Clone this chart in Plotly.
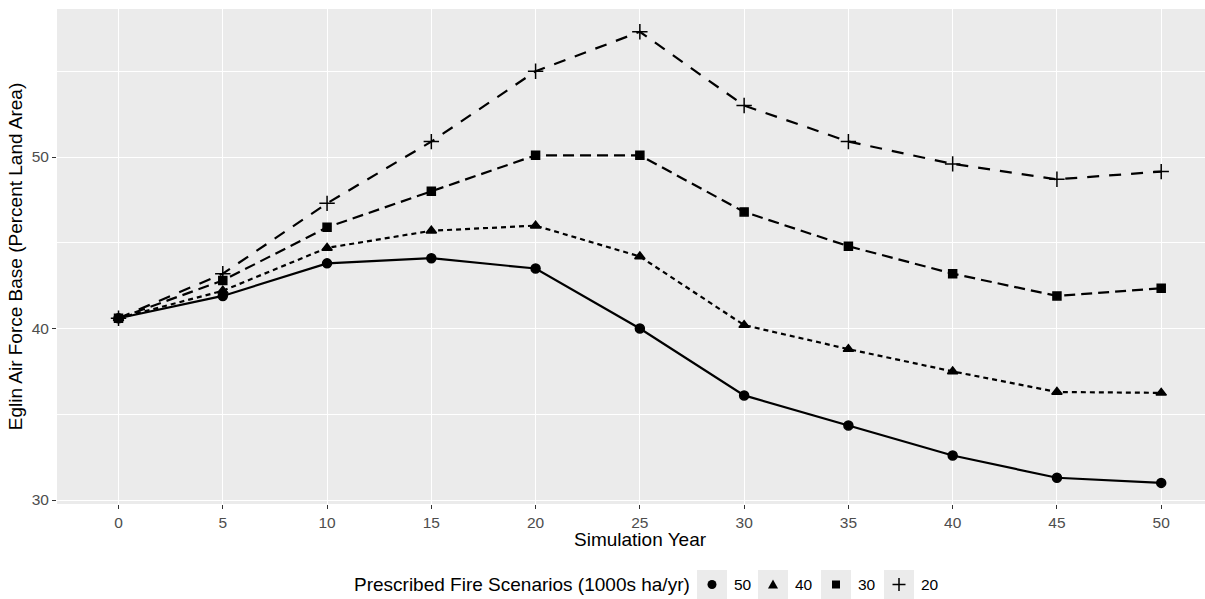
import plotly.graph_objects as go

years = [0, 5, 10, 15, 20, 25, 30, 35, 40, 45, 50]
s50 = [40.6, 41.9, 43.8, 44.1, 43.5, 40.0, 36.1, 34.35, 32.6, 31.3, 31.0]
s40 = [40.6, 42.2, 44.7, 45.7, 46.0, 44.2, 40.2, 38.8, 37.5, 36.3, 36.25]
s30 = [40.6, 42.8, 45.9, 48.0, 50.1, 50.1, 46.8, 44.8, 43.2, 41.9, 42.35]
s20 = [40.6, 43.2, 47.3, 50.9, 55.0, 57.3, 53.0, 50.9, 49.6, 48.7, 49.15]
legend_labels = ["50", "40", "30", "20"]
legend_title = "Prescribed Fire Scenarios (1000s ha/yr)"
x_title = "Simulation Year"
y_title = "Eglin Air Force Base (Percent Land Area)"

series = [
    (s50, "circle", "solid", 9),
    (s40, "triangle-up", "5px,4px", 9),
    (s30, "square", "11px,6px", 8),
    (s20, "cross-thin", "12px,10px", 11),
]

W, H = 1205, 599
ML, MR, MT, MB = 57, 0, 9, 95
PW, PH = W - ML - MR, H - MT - MB


def px(xp):
    return (xp - ML) / PW


def py(yp):
    return (H - MB - yp) / PH


fig = go.Figure()
for (ys, sym, dash, size), name in zip(series, legend_labels):
    fig.add_trace(go.Scatter(
        x=years, y=ys, mode="lines+markers", name=name, showlegend=False,
        line=dict(color="black", width=2.2, dash=dash),
        marker=dict(symbol=sym, size=size, color="black",
                    line=dict(color="black", width=1.5)),
    ))

# manual legend (bottom, horizontal) as in ggplot
shapes = []
annotations = [
    dict(xref="paper", yref="paper", x=px(692), y=py(584.5), xanchor="right", yanchor="middle",
         text=legend_title, showarrow=False, font=dict(size=19, color="black")),
    dict(xref="paper", yref="paper", x=px(640.5), y=py(539), xanchor="center", yanchor="middle",
         text=x_title, showarrow=False, font=dict(size=19, color="black")),
]
box_left = [697, 758, 821, 884]
cy = 584.5
for i, (bx, lab) in enumerate(zip(box_left, legend_labels)):
    shapes.append(dict(type="rect", xref="paper", yref="paper", layer="below",
                       x0=px(bx), x1=px(bx + 30), y0=py(599), y1=py(570),
                       fillcolor="#EBEBEB", line=dict(width=0)))
    cx = bx + 15
    if i == 0:
        shapes.append(dict(type="circle", xref="paper", yref="paper",
                           x0=px(cx - 4.5), x1=px(cx + 4.5), y0=py(cy + 4.5), y1=py(cy - 4.5),
                           fillcolor="black", line=dict(width=0)))
    elif i == 1:
        path = "M {},{} L {},{} L {},{} Z".format(px(cx - 5), py(cy + 4), px(cx + 5), py(cy + 4), px(cx), py(cy - 5))
        shapes.append(dict(type="path", xref="paper", yref="paper", path=path,
                           fillcolor="black", line=dict(width=0)))
    elif i == 2:
        shapes.append(dict(type="rect", xref="paper", yref="paper",
                           x0=px(cx - 4), x1=px(cx + 4), y0=py(cy + 4), y1=py(cy - 4),
                           fillcolor="black", line=dict(width=0)))
    else:
        path = "M {},{} L {},{} M {},{} L {},{}".format(px(cx - 6.5), py(cy), px(cx + 6.5), py(cy),
                                                        px(cx), py(cy - 6.5), px(cx), py(cy + 6.5))
        shapes.append(dict(type="path", xref="paper", yref="paper", path=path,
                           line=dict(color="black", width=1.5)))
    annotations.append(dict(
        xref="paper", yref="paper", x=px(bx + 35), y=py(cy), xanchor="left", yanchor="middle",
        text=lab, showarrow=False, font=dict(size=15.5, color="black"),
    ))

fig.update_layout(
    width=W, height=H,
    margin=dict(l=ML, r=MR, t=MT, b=MB),
    paper_bgcolor="white", plot_bgcolor="#EBEBEB",
    font=dict(family="Liberation Sans, Arial, sans-serif", color="black"),
    showlegend=False,
    shapes=shapes, annotations=annotations,
    xaxis=dict(
        range=[-2.95, 52.1], tickvals=years,
        showgrid=True, gridcolor="white", gridwidth=1.3,
        zeroline=False, ticks="outside", ticklen=4, tickcolor="#333333",
        tickfont=dict(size=15.5, color="#4D4D4D"),
    ),
    yaxis=dict(
        range=[29.77, 58.63], tickvals=[30, 40, 50],
        showgrid=True, gridcolor="white", gridwidth=1.3,
        minor=dict(tickvals=[35, 45, 55], showgrid=True, gridcolor="white", gridwidth=0.8, ticks=""),
        zeroline=False, ticks="outside", ticklen=4, tickcolor="#333333",
        tickfont=dict(size=15.5, color="#4D4D4D"),
        title=dict(text=y_title, font=dict(size=19), standoff=4),
    ),
)

fig.write_html("out.html")
